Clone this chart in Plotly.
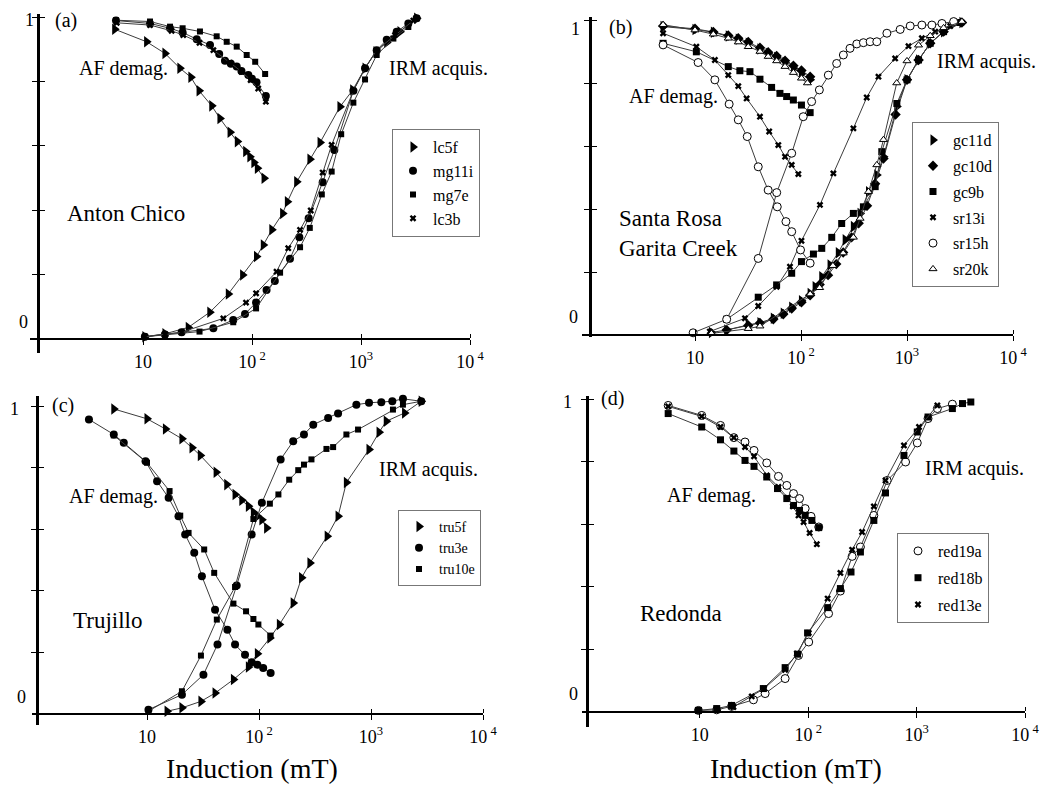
import plotly.graph_objects as go

W, H = 1053, 786
FONT = "Liberation Serif"
LINE = "#3c3c3c"

# ---------------- Panel (a) Anton Chico ----------------
LC5F_AF_B = [5.5, 10.8, 15.9, 21.8, 27.5, 32.7, 42.7, 50.8, 62.9, 73.3, 87.5, 95.6, 104, 112, 129]
LC5F_AF_M = [0.962, 0.923, 0.887, 0.841, 0.813, 0.771, 0.724, 0.685, 0.642, 0.613, 0.582, 0.566, 0.548, 0.530, 0.499]
LC5F_IRM_B = [10.4, 15.9, 26, 41, 60.6, 82, 110, 127, 152, 191, 211, 257, 340, 421, 641, 839, 1089, 1374, 1721, 2280, 3240]
LC5F_IRM_M = [0.007, 0.016, 0.036, 0.083, 0.14, 0.199, 0.256, 0.292, 0.339, 0.39, 0.426, 0.488, 0.558, 0.61, 0.721, 0.773, 0.841, 0.892, 0.921, 0.954, 0.996]

MG11I_AF_B = [5.65, 11.6, 17.7, 23.1, 31.1, 41.2, 50, 56.5, 64, 72.4, 80, 92.5, 100, 110, 134]
MG11I_AF_M = [0.989, 0.98, 0.965, 0.952, 0.931, 0.913, 0.885, 0.864, 0.855, 0.846, 0.832, 0.82, 0.808, 0.797, 0.755]
MG11I_IRM_B = [10.4, 15.9, 22.6, 44.2, 67.3, 86.3, 109, 136, 162, 223, 272, 331, 445, 569, 851, 1089, 1393, 1721, 2125, 2718, 3240]
MG11I_IRM_M = [0.007, 0.014, 0.021, 0.033, 0.059, 0.078, 0.113, 0.152, 0.18, 0.249, 0.316, 0.375, 0.487, 0.587, 0.771, 0.841, 0.897, 0.929, 0.954, 0.98, 0.996]

MG7E_AF_B = [5.65, 11.6, 17.7, 23.1, 33.3, 47.4, 58.6, 72.4, 89.4, 107, 132]
MG7E_AF_M = [0.99, 0.986, 0.97, 0.965, 0.955, 0.94, 0.923, 0.908, 0.882, 0.861, 0.823]
MG7E_IRM_B = [10.4, 15.9, 33, 67.3, 109, 181, 276, 339, 437, 538, 658, 851, 1089, 1393, 1982, 2718, 3240]
MG7E_IRM_M = [0.007, 0.013, 0.023, 0.052, 0.095, 0.206, 0.285, 0.345, 0.449, 0.52, 0.636, 0.734, 0.806, 0.882, 0.933, 0.969, 0.996]

LC3B_AF_B = [5.74, 11.6, 18.3, 23.4, 33, 44.2, 63, 80.4, 97.2, 114, 134]
LC3B_AF_M = [0.982, 0.975, 0.957, 0.944, 0.92, 0.897, 0.858, 0.83, 0.804, 0.778, 0.737]
LC3B_IRM_B = [10.4, 15.9, 22.6, 54.6, 88.1, 109, 168, 215, 276, 346, 445, 538, 851, 1089, 1393, 2051, 3022]
LC3B_IRM_M = [0.007, 0.014, 0.021, 0.064, 0.113, 0.142, 0.209, 0.282, 0.339, 0.399, 0.517, 0.603, 0.771, 0.841, 0.897, 0.944, 0.989]

# ---------------- Panel (b) Santa Rosa / Garita Creek ----------------
GC11D_AF_B = [5.0, 10, 14.9, 20.6, 25.6, 31.8, 41, 49, 58.9, 70.7, 84.8, 101, 122]
GC11D_AF_M = [0.979, 0.97, 0.961, 0.949, 0.939, 0.926, 0.908, 0.894, 0.881, 0.865, 0.847, 0.829, 0.81]
GC11D_IRM_B = [14.3, 19.9, 31.8, 41, 54.8, 68, 81.7, 101, 122, 136, 157, 188, 225, 261, 312, 361, 433, 519, 600, 802, 1000, 1285, 1656, 2214, 3296]
GC11D_IRM_M = [0.008, 0.016, 0.032, 0.039, 0.053, 0.069, 0.088, 0.109, 0.132, 0.153, 0.185, 0.222, 0.261, 0.302, 0.344, 0.386, 0.455, 0.508, 0.566, 0.725, 0.81, 0.873, 0.926, 0.963, 0.992]

GC10D_AF_B = [5.0, 10, 14.9, 20.6, 25.6, 31.8, 41, 49, 58.9, 70.7, 84.8, 101, 122]
GC10D_AF_M = [0.981, 0.972, 0.962, 0.951, 0.942, 0.93, 0.912, 0.898, 0.886, 0.871, 0.855, 0.84, 0.82]
GC10D_IRM_B = [19.9, 31.8, 41, 54.8, 68, 81.7, 101, 122, 150, 180, 215, 250, 300, 350, 420, 500, 600, 780, 1000, 1285, 1656, 2214, 3296]
GC10D_IRM_M = [0.016, 0.03, 0.038, 0.05, 0.066, 0.084, 0.104, 0.126, 0.16, 0.19, 0.225, 0.262, 0.31, 0.355, 0.41, 0.48, 0.56, 0.70, 0.81, 0.873, 0.926, 0.963, 0.992]

GC9B_AF_B = [5.0, 10.3, 20.6, 26.5, 33, 41, 52.8, 63.3, 73.2, 84.7, 101, 122]
GC9B_AF_M = [0.926, 0.899, 0.852, 0.839, 0.836, 0.812, 0.786, 0.767, 0.757, 0.746, 0.73, 0.706]
GC9B_IRM_B = [19.9, 39.5, 58.9, 81.7, 101, 131, 157, 195, 242, 312, 388, 501, 578, 802, 1000, 1285, 1656, 2214, 3176]
GC9B_IRM_M = [0.05, 0.12, 0.159, 0.196, 0.233, 0.257, 0.275, 0.31, 0.354, 0.386, 0.407, 0.471, 0.582, 0.735, 0.81, 0.873, 0.926, 0.963, 0.992]

SR13I_AF_B = [5.0, 10.3, 15.4, 20.6, 25.6, 30.7, 41, 50.1, 61.1, 70.7, 81.7, 94.4]
SR13I_AF_M = [0.958, 0.915, 0.873, 0.825, 0.79, 0.751, 0.693, 0.646, 0.603, 0.566, 0.54, 0.511]
SR13I_IRM_B = [13.8, 29.6, 39.5, 58.9, 78.7, 101, 151, 202, 312, 417, 538, 773, 1033, 1381, 1846, 2558, 3296]
SR13I_IRM_M = [0.011, 0.053, 0.092, 0.153, 0.217, 0.299, 0.413, 0.513, 0.656, 0.754, 0.82, 0.878, 0.917, 0.942, 0.963, 0.981, 0.992]

SR15H_AF_B = [5.0, 10.7, 15.4, 21, 25.6, 31.1, 39.5, 49, 59.7, 72.1, 81.7, 99, 122]
SR15H_AF_M = [0.921, 0.865, 0.81, 0.733, 0.683, 0.63, 0.534, 0.46, 0.407, 0.36, 0.328, 0.27, 0.228]
SR15H_IRM_B = [9.6, 19.9, 39.5, 59, 81.7, 105, 126, 149, 181, 217, 251, 290, 336, 388, 449, 519, 646, 862, 1072, 1381, 1717, 2136, 2755]
SR15H_IRM_M = [0.007, 0.05, 0.243, 0.452, 0.577, 0.693, 0.741, 0.778, 0.825, 0.862, 0.889, 0.91, 0.924, 0.928, 0.931, 0.931, 0.958, 0.97, 0.981, 0.984, 0.984, 0.989, 0.995]

SR20K_AF_B = [5.0, 10, 14.9, 20.6, 25.6, 31.8, 41, 49, 58.9, 70.7, 84.8, 101, 115]
SR20K_AF_M = [0.985, 0.968, 0.955, 0.942, 0.93, 0.915, 0.9, 0.884, 0.87, 0.852, 0.833, 0.815, 0.8]
SR20K_IRM_B = [14.3, 31.8, 41, 122, 150, 200, 250, 312, 361, 433, 519, 600, 800, 1000, 1285, 1656, 2214, 3296]
SR20K_IRM_M = [0.005, 0.02, 0.028, 0.13, 0.15, 0.22, 0.26, 0.31, 0.37, 0.455, 0.54, 0.62, 0.80, 0.87, 0.92, 0.95, 0.975, 0.995]

# ---------------- Panel (c) Trujillo ----------------
TRU5F_AF_B = [5.05, 10, 14.6, 20.5, 25.2, 29.9, 41.4, 51.5, 61.1, 70.2, 80.4, 89.1, 96.7, 106, 117]
TRU5F_AF_M = [0.992, 0.96, 0.927, 0.895, 0.866, 0.841, 0.786, 0.746, 0.714, 0.695, 0.676, 0.656, 0.643, 0.632, 0.605]
TRU5F_IRM_B = [15.1, 20.5, 30.3, 40.5, 59.1, 80.4, 96.7, 125, 152, 202, 240, 285, 406, 508, 603, 960, 1180, 1369, 1994, 2807]
TRU5F_IRM_M = [0.009, 0.02, 0.041, 0.068, 0.112, 0.153, 0.196, 0.247, 0.291, 0.361, 0.443, 0.491, 0.578, 0.643, 0.753, 0.86, 0.916, 0.952, 0.979, 1.017]

TRU3E_AF_B = [3.03, 5.05, 6.2, 9.7, 12.3, 15.6, 19.1, 21.9, 26.4, 30.9, 40.5, 52.2, 61.1, 75, 86, 96.7, 109, 127]
TRU3E_AF_M = [0.958, 0.909, 0.882, 0.822, 0.757, 0.703, 0.643, 0.584, 0.524, 0.448, 0.339, 0.274, 0.226, 0.193, 0.168, 0.16, 0.15, 0.133]
TRU3E_IRM_B = [10.3, 20.5, 31.9, 42.6, 63.2, 86, 106, 156, 202, 252, 305, 414, 508, 740, 960, 1236, 1549, 1928, 2807]
TRU3E_IRM_M = [0.014, 0.063, 0.128, 0.226, 0.418, 0.584, 0.687, 0.828, 0.887, 0.909, 0.941, 0.963, 0.977, 1.006, 1.012, 1.014, 1.017, 1.025, 1.017]

TRU10E_AF_B = [5.05, 10, 15.9, 19.8, 23.5, 32.4, 39.8, 59.1, 76.6, 89.1, 98.7, 127]
TRU10E_AF_M = [0.906, 0.817, 0.725, 0.645, 0.589, 0.535, 0.459, 0.359, 0.334, 0.309, 0.291, 0.255]
TRU10E_IRM_B = [10.3, 20.5, 30.3, 42, 61.1, 89.1, 125, 149, 186, 224, 252, 294, 400, 459, 603, 766, 1570, 1928, 2807]
TRU10E_IRM_M = [0.009, 0.074, 0.19, 0.307, 0.413, 0.634, 0.684, 0.714, 0.762, 0.793, 0.811, 0.828, 0.862, 0.868, 0.909, 0.925, 0.99, 1.006, 1.017]

# ---------------- Panel (d) Redonda ----------------
RED19A_AF_B = [5.1, 10.4, 15.5, 20.6, 26.1, 31.6, 41.4, 53.1, 63.4, 73.1, 83.1, 93.7, 106, 125]
RED19A_AF_M = [0.981, 0.949, 0.917, 0.878, 0.864, 0.837, 0.797, 0.754, 0.725, 0.699, 0.683, 0.651, 0.626, 0.592]
RED19A_IRM_B = [9.7, 14.3, 19.6, 31.2, 40, 61.2, 81.3, 101, 154, 198, 254, 303, 403, 535, 791, 1014, 1274, 1553, 2137]
RED19A_IRM_M = [0.005, 0.007, 0.018, 0.039, 0.059, 0.107, 0.181, 0.224, 0.315, 0.387, 0.498, 0.528, 0.629, 0.741, 0.80, 0.861, 0.939, 0.971, 0.985]

RED18B_AF_B = [5.1, 10.4, 15.5, 20.6, 26.1, 31.6, 41.4, 52, 63.4, 73.1, 83.1, 93.7, 108, 125]
RED18B_AF_M = [0.955, 0.912, 0.871, 0.835, 0.805, 0.786, 0.752, 0.715, 0.683, 0.661, 0.645, 0.629, 0.613, 0.59]
RED18B_IRM_B = [9.7, 14.3, 19.6, 38.5, 61.2, 79.6, 98.6, 151, 198, 248, 303, 403, 516, 764, 1014, 1274, 2137, 2650, 3163]
RED18B_IRM_M = [0.005, 0.011, 0.021, 0.075, 0.142, 0.185, 0.253, 0.334, 0.395, 0.448, 0.512, 0.613, 0.701, 0.821, 0.896, 0.944, 0.971, 0.987, 0.992]

RED13E_AF_B = [5.1, 10.4, 15.5, 20.6, 26.1, 31.6, 41.4, 53.1, 64.4, 72.1, 81.3, 90.6, 103, 120]
RED13E_AF_M = [0.978, 0.946, 0.912, 0.878, 0.848, 0.818, 0.757, 0.72, 0.686, 0.658, 0.629, 0.608, 0.573, 0.537]
RED13E_IRM_B = [20.4, 30.1, 39.2, 61.2, 78.5, 101, 151, 198, 254, 314, 403, 516, 764, 1052, 1553]
RED13E_IRM_M = [0.016, 0.05, 0.075, 0.135, 0.187, 0.253, 0.363, 0.445, 0.519, 0.576, 0.658, 0.741, 0.853, 0.912, 0.981]

X_TICKVALS = [10, 100, 1000, 10000]
X_TICKTEXT = ["10", "10<sup> 2</sup>", "10<sup>3</sup>", "10<sup> 4</sup>"]
Y_TICKVALS = [0.2, 0.4, 0.6, 0.8, 1.0]


def fx(px):
    return px / W


def fy(py):
    return 1 - py / H


fig = go.Figure()


def add_series(name, symbol, size, fill, af, irm, xa, ya, legend):
    marker = dict(symbol=symbol, size=size, color=fill,
                  line=dict(color="black", width=1 if fill == "white" else 0))
    for b, m in (af, irm):
        fig.add_trace(go.Scatter(x=b, y=m, xaxis=xa, yaxis=ya, mode="lines+markers",
                                 line=dict(color=LINE, width=1), marker=marker,
                                 showlegend=False, cliponaxis=False, hoverinfo="x+y"))
    fig.add_trace(go.Scatter(x=[None], y=[None], xaxis=xa, yaxis=ya, mode="markers",
                             marker=marker, name=name, legend=legend,
                             legendgroup=name, showlegend=True))


# Panel a
add_series("lc5f", "triangle-right", 10, "black", (LC5F_AF_B, LC5F_AF_M), (LC5F_IRM_B, LC5F_IRM_M), "x", "y", "legend")
add_series("mg11i", "circle", 8, "black", (MG11I_AF_B, MG11I_AF_M), (MG11I_IRM_B, MG11I_IRM_M), "x", "y", "legend")
add_series("mg7e", "square", 6, "black", (MG7E_AF_B, MG7E_AF_M), (MG7E_IRM_B, MG7E_IRM_M), "x", "y", "legend")
add_series("lc3b", "x", 6, "black", (LC3B_AF_B, LC3B_AF_M), (LC3B_IRM_B, LC3B_IRM_M), "x", "y", "legend")
# Panel b
add_series("gc11d", "triangle-right", 10, "black", (GC11D_AF_B, GC11D_AF_M), (GC11D_IRM_B, GC11D_IRM_M), "x2", "y2", "legend2")
add_series("gc10d", "diamond", 8, "black", (GC10D_AF_B, GC10D_AF_M), (GC10D_IRM_B, GC10D_IRM_M), "x2", "y2", "legend2")
add_series("gc9b", "square", 7, "black", (GC9B_AF_B, GC9B_AF_M), (GC9B_IRM_B, GC9B_IRM_M), "x2", "y2", "legend2")
add_series("sr13i", "x", 6, "black", (SR13I_AF_B, SR13I_AF_M), (SR13I_IRM_B, SR13I_IRM_M), "x2", "y2", "legend2")
add_series("sr15h", "circle", 8, "white", (SR15H_AF_B, SR15H_AF_M), (SR15H_IRM_B, SR15H_IRM_M), "x2", "y2", "legend2")
add_series("sr20k", "triangle-up", 7, "white", (SR20K_AF_B, SR20K_AF_M), (SR20K_IRM_B, SR20K_IRM_M), "x2", "y2", "legend2")
# Panel c
add_series("tru5f", "triangle-right", 10, "black", (TRU5F_AF_B, TRU5F_AF_M), (TRU5F_IRM_B, TRU5F_IRM_M), "x3", "y3", "legend3")
add_series("tru3e", "circle", 8, "black", (TRU3E_AF_B, TRU3E_AF_M), (TRU3E_IRM_B, TRU3E_IRM_M), "x3", "y3", "legend3")
add_series("tru10e", "square", 6, "black", (TRU10E_AF_B, TRU10E_AF_M), (TRU10E_IRM_B, TRU10E_IRM_M), "x3", "y3", "legend3")
# Panel d
add_series("red19a", "circle", 8, "white", (RED19A_AF_B, RED19A_AF_M), (RED19A_IRM_B, RED19A_IRM_M), "x4", "y4", "legend4")
add_series("red18b", "square", 7, "black", (RED18B_AF_B, RED18B_AF_M), (RED18B_IRM_B, RED18B_IRM_M), "x4", "y4", "legend4")
add_series("red13e", "x", 6, "black", (RED13E_AF_B, RED13E_AF_M), (RED13E_IRM_B, RED13E_IRM_M), "x4", "y4", "legend4")


def xaxis_cfg(left_px, right_px, lo, hi, axis_py):
    return dict(type="log", range=[lo, hi], domain=[fx(left_px), fx(right_px)],
                anchor="free", position=fy(axis_py), showline=True, linecolor="black",
                linewidth=2, showgrid=False, zeroline=False,
                tickmode="array", tickvals=X_TICKVALS, ticktext=X_TICKTEXT,
                ticks="outside", ticklen=5, tickwidth=1, tickcolor="black",
                minor=dict(tickmode="array", tickvals=X_TICKVALS, ticks="inside",
                           ticklen=4, tickwidth=1, tickcolor="black"),
                tickfont=dict(family=FONT, size=18, color="black"),
                ticklabelstandoff=1, automargin=False, fixedrange=True)


def yaxis_cfg(y1_py, bottom_py, axis_py, axis_px, top_val=1.0):
    scale = axis_py - y1_py          # pixels per unit
    top_py = y1_py - (top_val - 1.0) * scale
    lo = -(bottom_py - axis_py) / scale
    return dict(range=[lo, top_val], domain=[fy(bottom_py), fy(top_py)],
                anchor="free", position=fx(axis_px), showline=True, linecolor="black",
                linewidth=2.5, showgrid=False, zeroline=False,
                tickmode="array", tickvals=Y_TICKVALS, showticklabels=False,
                ticks="outside", ticklen=5, tickwidth=1, tickcolor="black",
                minor=dict(tickmode="array", tickvals=Y_TICKVALS, ticks="inside",
                           ticklen=5, tickwidth=1, tickcolor="black"),
                automargin=False, fixedrange=True)


def legend_cfg(left_px, top_py, gap, size=16):
    return dict(x=fx(left_px), y=fy(top_py), xanchor="left", yanchor="top",
                bgcolor="white", bordercolor="#777777", borderwidth=1,
                font=dict(family=FONT, size=size, color="black"),
                tracegroupgap=gap, itemwidth=30)


layout = dict(
    width=W, height=H, margin=dict(l=0, r=0, t=0, b=0),
    paper_bgcolor="white", plot_bgcolor="white",
    font=dict(family=FONT, color="black"),
    xaxis=xaxis_cfg(30, 470, -0.0367, 4.0, 339),
    yaxis=yaxis_cfg(17, 353, 339, 38, 1.01),
    xaxis2=xaxis_cfg(582, 1013, -0.066, 4.0, 335),
    yaxis2=yaxis_cfg(20, 337, 335, 590, 1.01),
    xaxis3=xaxis_cfg(32, 483, -0.027, 4.0, 714),
    yaxis3=yaxis_cfg(406.5, 725, 714, 37, 1.035),
    xaxis4=xaxis_cfg(582, 1025, -0.0876, 4.0, 712),
    yaxis4=yaxis_cfg(399.5, 727, 712, 587, 1.01),
    legend=legend_cfg(392, 129, 0),
    legend2=legend_cfg(912, 122, 2),
    legend3=legend_cfg(398, 510, 0, 14),
    legend4=legend_cfg(897, 533, 3),
    showlegend=True,
)
fig.update_layout(**layout)


def note(text, px, py, size, xanchor="center", align="center"):
    fig.add_annotation(text=text, x=fx(px), y=fy(py), xref="paper", yref="paper",
                       showarrow=False, xanchor=xanchor, yanchor="middle", align=align,
                       font=dict(family=FONT, size=size, color="black"))


# y-axis end labels ("0" raised above the axes as in the original)
note("1", 29, 20, 18)
note("0", 23, 322, 18)
note("1", 575, 29, 18)
note("0", 573, 317, 18)
note("1", 14, 409, 18)
note("0", 21, 697, 18)
note("1", 567, 402, 18)
note("0", 573, 694, 18)

# panel (a)
note("(a)", 66, 21, 20)
note("AF demag.", 123, 69, 20)
note("IRM acquis.", 438, 69, 20)
note("Anton Chico", 126, 213, 23)
# panel (b)
note("(b)", 620, 27, 20)
note("AF demag.", 673, 97, 20)
note("IRM acquis.", 986, 62, 20)
note("Santa Rosa<br>Garita Creek", 617, 234, 23, xanchor="left", align="left")
# panel (c)
note("(c)", 63, 405, 20)
note("AF demag.", 113, 497, 20)
note("IRM acquis.", 428, 470, 20)
note("Trujillo", 107, 620, 23)
# panel (d)
note("(d)", 612, 398, 20)
note("AF demag.", 711, 495, 20)
note("IRM acquis.", 974, 468, 20)
note("Redonda", 681, 613, 23)
# axis titles
note("Induction (mT)", 252, 768, 28)
note("Induction (mT)", 796, 768, 28)

fig.write_html("out.html", config={"displayModeBar": False, "staticPlot": False},
               post_script="document.body.style.margin='0px';")
